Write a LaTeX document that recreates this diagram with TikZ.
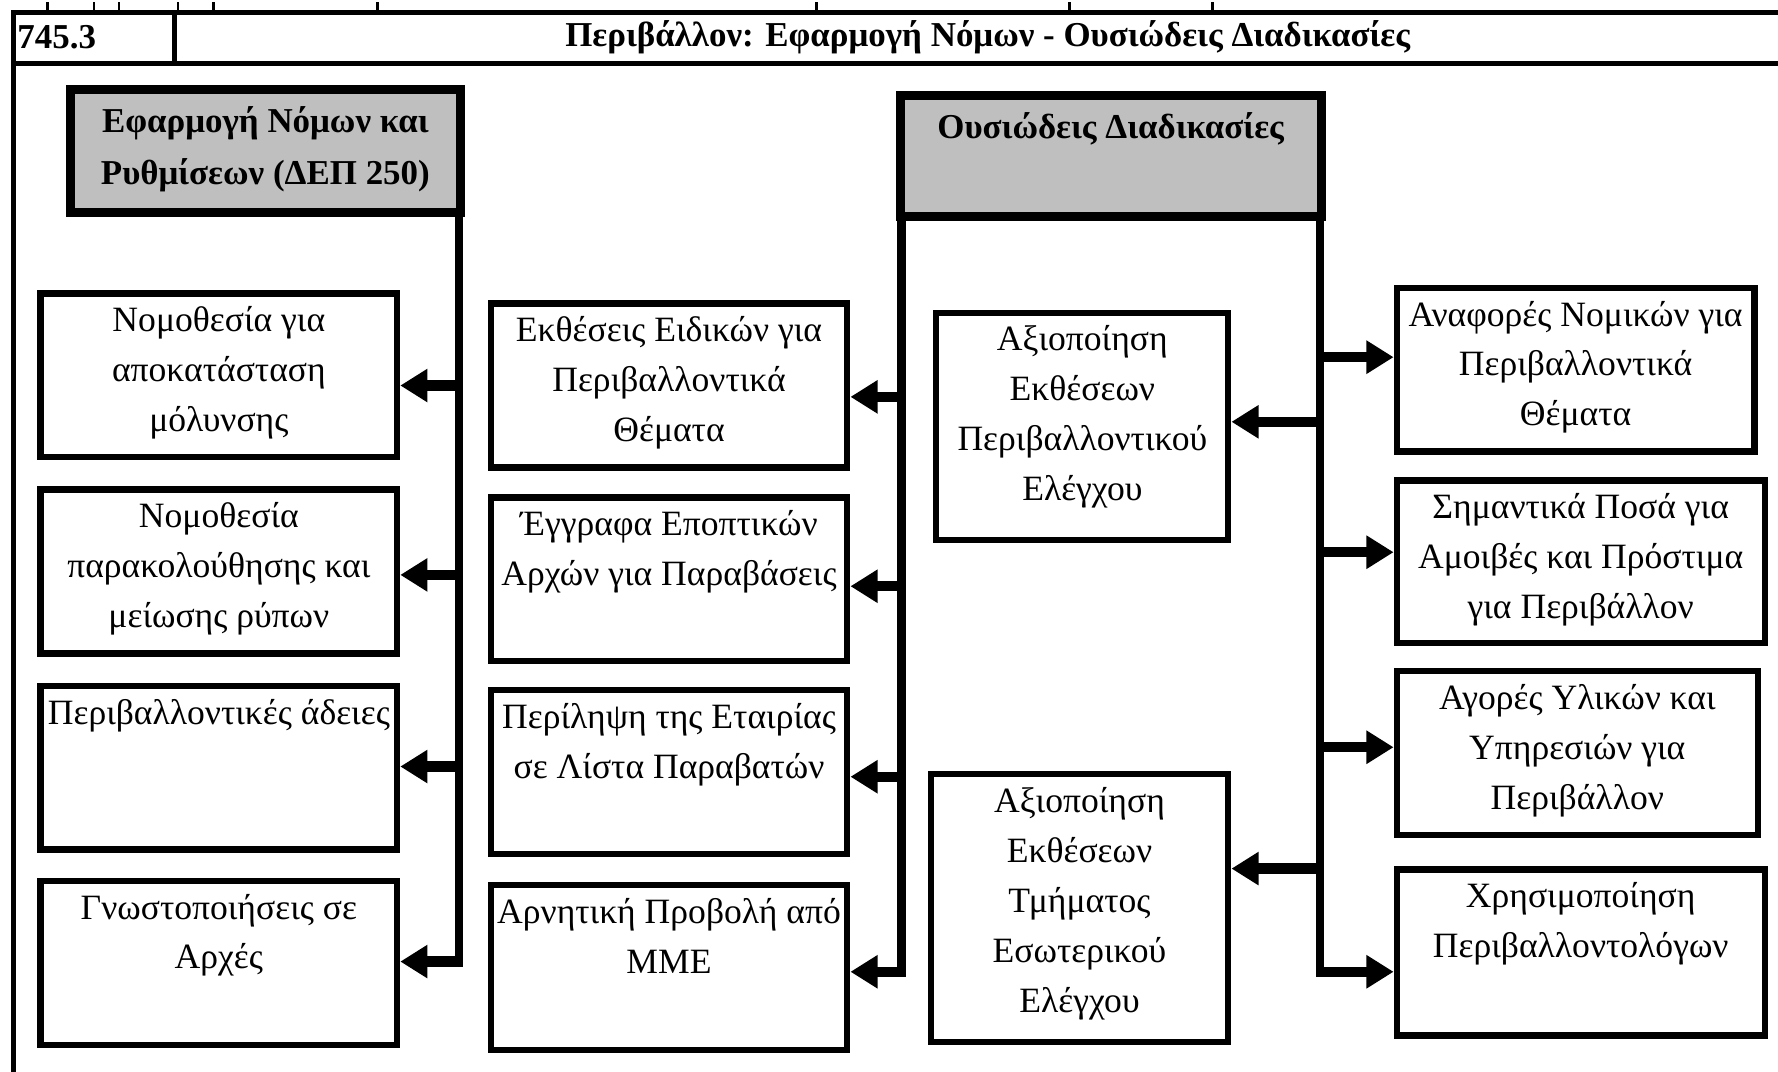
\documentclass[tikz,border=0pt]{standalone}
\usepackage{fontspec}
\setmainfont{Liberation Serif}
\usetikzlibrary{arrows.meta}
\newcommand\wbx[6]{%
  \node[wbox, anchor=north west, minimum width={(#4-#2-5.5)*0.5pt}, minimum height={(#5-#3-5.5)*0.5pt}] (#1) at (#2,#3) {};
  \node[txt, anchor=north] (#1t) at ([yshift=-7pt]#1.north) {#6};}
\newcommand\gbx[6]{%
  \node[gbox, anchor=north west, minimum width={(#4-#2-8)*0.5pt}, minimum height={(#5-#3-8)*0.5pt}] (#1) at (#2,#3) {};
  \node[btxt, anchor=north] (#1t) at ([yshift=-9.5pt]#1.north) {#6};}
\begin{document}
\begin{tikzpicture}[x=0.5pt,y=-0.5pt,
  wbox/.style={draw, line width=2.75pt, fill=white, inner sep=0pt},
  gbox/.style={draw, line width=4pt, fill=gray!50, inner sep=0pt},
  txt/.style={align=center, inner sep=0pt, font=\fontsize{15.7}{22}\selectfont},
  btxt/.style={align=center, inner sep=0pt, font=\fontsize{15.4}{22.5}\selectfont\bfseries},
  trunk/.style={line width=3.75pt},
  arr/.style={line width=4.5pt, -{Triangle[length=12pt,width=14pt]}},
  frameline/.style={line width=2.5pt},
  tick/.style={line width=1.2pt},
]
\useasboundingbox (0,0) rectangle (1568,945);
% top ticks
\foreach \t in {42,83,105,157,188,333,720,943,1069}
  \draw[tick] (\t,2) -- (\t,9);
% table frame
\draw[frameline] (10,11) -- (1580,11);
\draw[frameline] (10,56) -- (1580,56);
\draw[line width=2pt] (12,9) -- (12,960);
\draw[line width=2pt] (154,11) -- (154,56);
\node[font=\fontsize{15.4}{22}\selectfont\bfseries, anchor=west, inner sep=0pt] (num) at (15,33) {745.3};
\node[font=\fontsize{15.4}{22}\selectfont\bfseries, inner sep=0pt] (title) at (871,33) {Περιβάλλον: Εφαρμογή Νόμων - Ουσιώδεις Διαδικασίες};
% gray headers
\gbx{gL}{58}{75}{410}{191}{Εφαρμογή Νόμων και\\Ρυθμίσεων (ΔΕΠ 250)}
\gbx{gR}{790}{80}{1169}{195}{Ουσιώδεις Διαδικασίες}
% left column
\wbx{L1}{33}{256}{353}{406}{Νομοθεσία για\\αποκατάσταση\\μόλυνσης}
\wbx{L2}{33}{429}{353}{579}{Νομοθεσία\\παρακολούθησης και\\μείωσης ρύπων}
\wbx{L3}{33}{602}{353}{752}{Περιβαλλοντικές άδειες}
\wbx{L4}{33}{774}{353}{924}{Γνωστοποιήσεις σε\\Αρχές}
% middle column
\wbx{M1}{430}{265}{750}{415}{Εκθέσεις Ειδικών για\\Περιβαλλοντικά\\Θέματα}
\wbx{M2}{430}{436}{750}{586}{Έγγραφα Εποπτικών\\Αρχών για Παραβάσεις}
\wbx{M3}{430}{606}{750}{756}{Περίληψη της Εταιρίας\\σε Λίστα Παραβατών}
\wbx{M4}{430}{778}{750}{929}{Αρνητική Προβολή από\\ΜΜΕ}
% evaluation boxes
\wbx{A1}{823}{273}{1086}{479}{Αξιοποίηση\\Εκθέσεων\\Περιβαλλοντικού\\Ελέγχου}
\wbx{A2}{818}{680}{1086}{922}{Αξιοποίηση\\Εκθέσεων\\Τμήματος\\Εσωτερικού\\Ελέγχου}
% right column
\wbx{R1}{1229}{251}{1550}{401}{Αναφορές Νομικών για\\Περιβαλλοντικά\\Θέματα}
\wbx{R2}{1229}{421}{1559}{570}{Σημαντικά Ποσά για\\Αμοιβές και Πρόστιμα\\για Περιβάλλον}
\wbx{R3}{1229}{589}{1553}{739}{Αγορές Υλικών και\\Υπηρεσιών για\\Περιβάλλον}
\wbx{R4}{1229}{764}{1559}{916}{Χρησιμοποίηση\\Περιβαλλοντολόγων}
% trunks
\coordinate (tL) at (405,191);
\coordinate (tM) at (795,195);
\coordinate (tR) at (1164,195);
\draw[trunk] (tL) -- (405,852.5);
\draw[trunk] (tM) -- (795,861.5);
\draw[trunk] (tR) -- (1164,861.5);
% junctions and arrows
\coordinate (jL1) at (405,340); \coordinate (jL2) at (405,507);
\coordinate (jL3) at (405,676); \coordinate (jL4) at (405,848);
\coordinate (jM1) at (795,350); \coordinate (jM2) at (795,517);
\coordinate (jM3) at (795,685); \coordinate (jM4) at (795,857);
\coordinate (jA1) at (1164,372); \coordinate (jA2) at (1164,766);
\coordinate (jR1) at (1164,315); \coordinate (jR2) at (1164,487);
\coordinate (jR3) at (1164,659); \coordinate (jR4) at (1164,857);
\foreach \n in {L1,L2,L3,L4,M1,M2,M3,M4,A1,A2}
  \draw[arr] (j\n) -- (j\n -| \n.east);
\foreach \n in {R1,R2,R3,R4}
  \draw[arr] (j\n) -- (j\n -| \n.west);
\end{tikzpicture}
\end{document}
